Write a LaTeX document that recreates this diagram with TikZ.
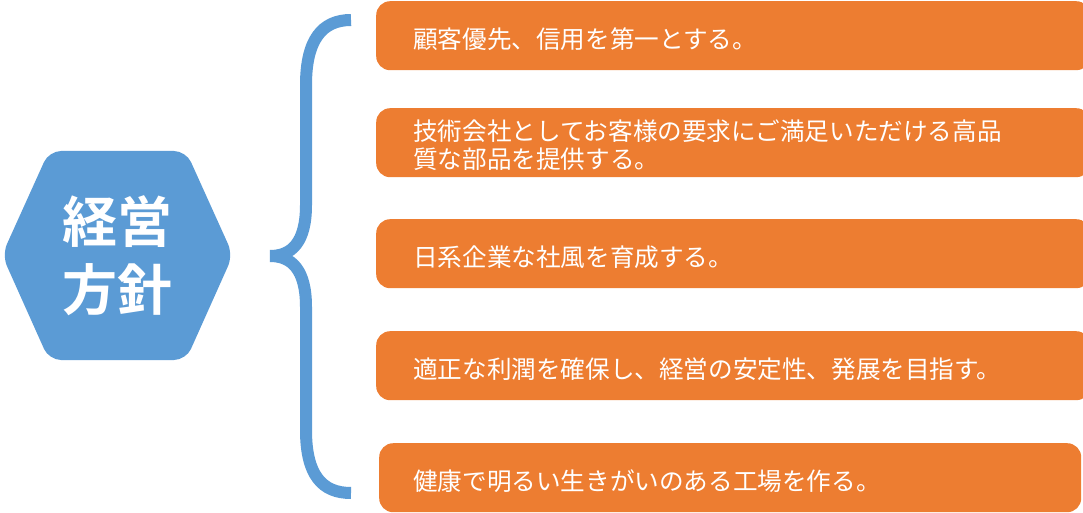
\documentclass[tikz,border=0pt]{standalone}
\usepackage{fontspec}
\newfontfamily\cjk{Noto Sans CJK JP}[BoldFont={Noto Sans CJK JP Bold}]
\definecolor{orng}{HTML}{ED7D31}
\definecolor{blu}{HTML}{5B9BD5}
\newcommand\lowtxt[2]{\raisebox{-#1}[\height][\depth]{#2}}
\begin{document}
\begin{tikzpicture}[x=1pt,y=-1pt,
 item/.style={fill=orng, rounded corners=14pt, anchor=north west,
   minimum width=704pt, minimum height=69pt, text width=640pt,
   inner xsep=37pt, inner ysep=0pt, align=left, text=white,
   font=\cjk\fontsize{24.6}{28}\selectfont},
 hextext/.style={text=white, align=center,
   font=\cjk\bfseries\fontsize{55}{68}\selectfont},
 bracestyle/.style={draw=blu, line width=12pt}]
\useasboundingbox (0,0) rectangle (1083,513);
\fill[blu, rounded corners=12pt] (2,255) -- (49,151) -- (186,151) -- (233,255) -- (186,360) -- (49,360) -- cycle;
\node[hextext] (hex) at (117,256) {経営\\方針};
\coordinate (btop) at (351,20);
\coordinate (btip) at (270,256);
\coordinate (bbot) at (351,493);
\draw[bracestyle] (btop) .. controls (322,20) and (306,40) .. (306,85) -- (306,205)
  .. controls (306,242) and (292,256) .. (btip)
  .. controls (292,256) and (306,270) .. (306,307) -- (306,430)
  .. controls (306,475) and (322,493) .. (bbot);
\node[item] (b1) at (376,1) {\lowtxt{3pt}{顧客優先、信用を第一とする。}};
\node[item] (b2) at (376,108) {\lowtxt{2pt}{技術会社としてお客様の要求にご満足いただける高品}\\\lowtxt{2pt}{質な部品を提供する。}};
\node[item] (b3) at (376,219) {\lowtxt{3.5pt}{日系企業な社風を育成する。}};
\node[item] (b4) at (376,331) {\lowtxt{3.5pt}{適正な利潤を確保し、経営の安定性、発展を目指す。}};
\node[item, minimum width=702pt, inner xsep=34pt, text width=634pt] (b5) at (379,443) {\lowtxt{3pt}{健康で明るい生きがいのある工場を作る。}};
\end{tikzpicture}
\end{document}
